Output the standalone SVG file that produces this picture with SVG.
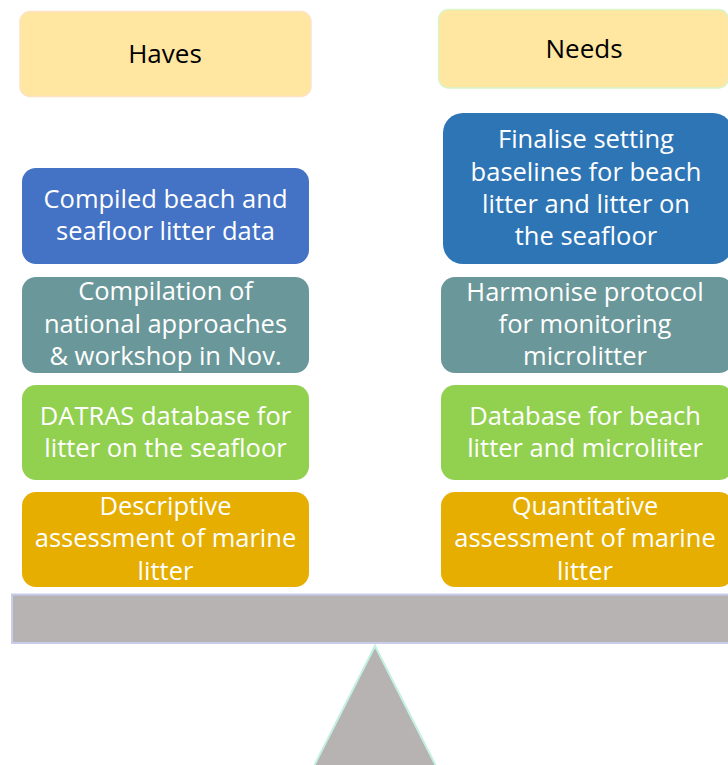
<svg xmlns="http://www.w3.org/2000/svg" width="728" height="765" viewBox="0 0 728 765">
<style>
.t{font-family:"Open Sans","Liberation Sans",sans-serif;font-size:25.5px;fill:#fff;text-anchor:middle}
.h{font-family:"Open Sans","Liberation Sans",sans-serif;font-size:26px;fill:#000;text-anchor:middle}
</style>
<rect width="728" height="765" fill="#fff"/>
<g id="haves"><rect x="20" y="11.5" width="291" height="85" rx="10" fill="#FFE6A1" stroke="#FDE3C4" stroke-width="1.5"/><text class="h" x="165" y="63">Haves</text></g>
<g id="needs"><rect x="438.5" y="9.5" width="290" height="78.5" rx="10" fill="#FFE6A1" stroke="#D9F5CC" stroke-width="1.5"/><text class="h" x="584" y="58">Needs</text></g>
<g id="have1"><rect x="22" y="168" width="287" height="96" rx="14" fill="#4472C4"/><text class="t" x="165.5" y="208">Compiled beach and</text><text class="t" x="165.5" y="240">seafloor litter data</text></g>
<g id="have2"><rect x="22" y="277" width="287" height="96" rx="14" fill="#6A9799"/><text class="t" x="165.5" y="300">Compilation of</text><text class="t" x="165.5" y="333">national approaches</text><text class="t" x="165.5" y="365">&amp; workshop in Nov.</text></g>
<g id="have3"><rect x="22" y="385" width="287" height="95" rx="14" fill="#92D050"/><text class="t" x="165.5" y="425">DATRAS database for</text><text class="t" x="165.5" y="457">litter on the seafloor</text></g>
<g id="have4"><rect x="22" y="492" width="287" height="95" rx="14" fill="#E5AE00"/><text class="t" x="165.5" y="515">Descriptive</text><text class="t" x="165.5" y="547">assessment of marine</text><text class="t" x="165.5" y="580">litter</text></g>
<g id="need1"><rect x="443" y="113" width="290" height="151" rx="20" fill="#2E75B6"/><text class="t" x="586" y="148">Finalise setting</text><text class="t" x="586" y="181">baselines for beach</text><text class="t" x="586" y="213">litter and litter on</text><text class="t" x="586" y="245">the seafloor</text></g>
<g id="need2"><rect x="441" y="277" width="292" height="96" rx="14" fill="#6A9799"/><text class="t" x="585" y="301">Harmonise protocol</text><text class="t" x="585" y="333">for monitoring</text><text class="t" x="585" y="365">microlitter</text></g>
<g id="need3"><rect x="441" y="385" width="292" height="95" rx="14" fill="#92D050"/><text class="t" x="585" y="425">Database for beach</text><text class="t" x="585" y="457">litter and microliiter</text></g>
<g id="need4"><rect x="441" y="492" width="292" height="95" rx="14" fill="#E5AE00"/><text class="t" x="585" y="515">Quantitative</text><text class="t" x="585" y="547">assessment of marine</text><text class="t" x="585" y="580">litter</text></g>
<g id="beam"><rect x="12" y="594.5" width="720" height="48.5" fill="#B7B3B2" stroke="#C9CCEA" stroke-width="2"/></g>
<g id="fulcrum"><polygon points="375,646 313,768 437,768" fill="#B7B3B2" stroke="#C2F0E2" stroke-width="2"/></g>
<g id="connectors"></g>
</svg>
